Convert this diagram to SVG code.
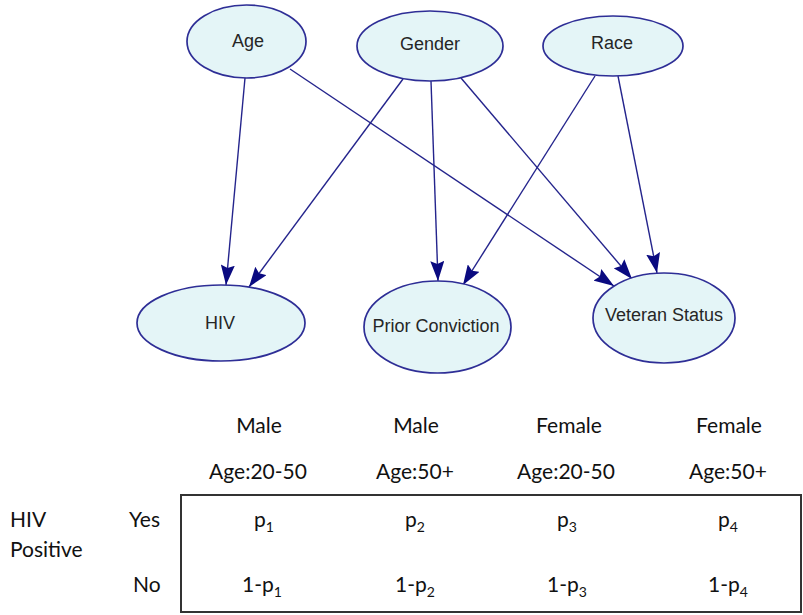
<svg xmlns="http://www.w3.org/2000/svg" width="803" height="615" viewBox="0 0 803 615">
<style>
.node ellipse{fill:#e4f5f7;stroke:#2e2e96;stroke-width:1.7}
.node text{font-family:"Liberation Sans",Arial,sans-serif;font-size:18px;fill:#262626;text-anchor:middle;dominant-baseline:central}
.edge{stroke:#24248c;stroke-width:1.4;fill:none;marker-end:url(#ah)}
.t{font-family:Lato,"Open Sans",sans-serif;font-size:21px;fill:#111}
.c{text-anchor:middle}
.s{font-size:14px}
</style>
<defs>
<marker id="ah" markerUnits="userSpaceOnUse" markerWidth="22" markerHeight="14" refX="20" refY="7" orient="auto">
<path d="M0,0 L20,7 L0,14 L3,7 z" fill="#0a0a80"/>
</marker>
</defs>
<g id="connectors">
<line class="edge" x1="245" y1="78" x2="226" y2="285"/>
<line class="edge" x1="290" y1="69" x2="614" y2="286"/>
<line class="edge" x1="403" y1="79" x2="249" y2="287"/>
<line class="edge" x1="431" y1="81" x2="438" y2="281"/>
<line class="edge" x1="461" y1="78" x2="632" y2="279"/>
<line class="edge" x1="595" y1="76" x2="463" y2="285"/>
<line class="edge" x1="618" y1="76" x2="657" y2="273"/>
</g>
<g id="age" class="node"><ellipse cx="246.5" cy="41.5" rx="59.5" ry="36.5"/><text x="248" y="41">Age</text></g>
<g id="gender" class="node"><ellipse cx="430" cy="46" rx="73" ry="35"/><text x="430" y="44">Gender</text></g>
<g id="race" class="node"><ellipse cx="613" cy="46" rx="70" ry="30"/><text x="612" y="43">Race</text></g>
<g id="hiv" class="node"><ellipse cx="221" cy="323" rx="84" ry="38"/><text x="220" y="323">HIV</text></g>
<g id="prior" class="node"><ellipse cx="437.5" cy="327" rx="73.5" ry="46"/><text x="436" y="326">Prior Conviction</text></g>
<g id="veteran" class="node"><ellipse cx="664" cy="318" rx="71" ry="45"/><text x="664" y="315">Veteran Status</text></g>
<g id="table">
<rect x="181" y="495" width="620" height="117" fill="none" stroke="#333" stroke-width="2"/>
<text class="t c" x="259" y="433">Male</text>
<text class="t c" x="416" y="433">Male</text>
<text class="t c" x="569" y="433">Female</text>
<text class="t c" x="729" y="433">Female</text>
<text class="t c" x="258" y="479">Age:20-50</text>
<text class="t c" x="415" y="479">Age:50+</text>
<text class="t c" x="566" y="479">Age:20-50</text>
<text class="t c" x="728" y="479">Age:50+</text>
<text class="t" x="10" y="527">HIV</text>
<text class="t" x="10" y="557">Positive</text>
<text class="t" x="129" y="527">Yes</text>
<text class="t" x="133" y="592">No</text>
<text class="t c" x="264" y="527">p<tspan class="s" dy="5">1</tspan></text>
<text class="t c" x="415" y="527">p<tspan class="s" dy="5">2</tspan></text>
<text class="t c" x="567" y="527">p<tspan class="s" dy="5">3</tspan></text>
<text class="t c" x="728" y="527">p<tspan class="s" dy="5">4</tspan></text>
<text class="t c" x="262" y="592">1-p<tspan class="s" dy="5">1</tspan></text>
<text class="t c" x="415" y="592">1-p<tspan class="s" dy="5">2</tspan></text>
<text class="t c" x="567" y="592">1-p<tspan class="s" dy="5">3</tspan></text>
<text class="t c" x="728" y="592">1-p<tspan class="s" dy="5">4</tspan></text>
</g>
</svg>
